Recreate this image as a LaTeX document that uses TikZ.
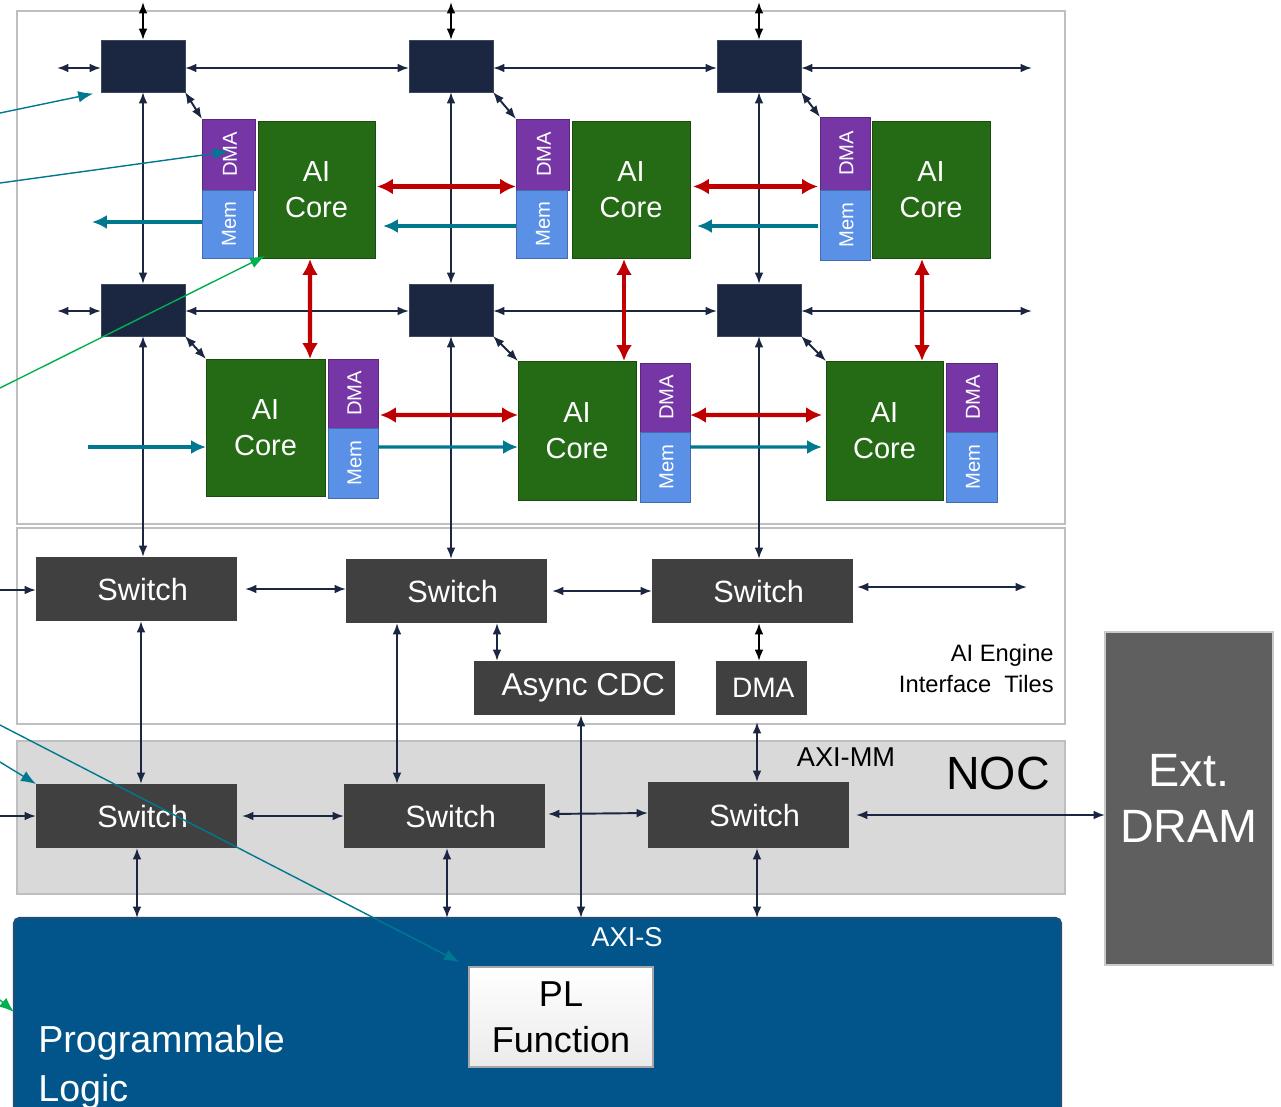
\documentclass[tikz,border=0pt]{standalone}
\usepackage{fontspec}
\setmainfont{Liberation Sans}
\usetikzlibrary{arrows.meta,calc}
\definecolor{cNavy}{HTML}{1B2641}
\definecolor{cDark}{HTML}{404040}
\definecolor{cCore}{HTML}{256B16}
\definecolor{cPurp}{HTML}{7636A6}
\definecolor{cMem}{HTML}{5A90E6}
\definecolor{cRed}{HTML}{C00000}
\definecolor{cTeal}{HTML}{00788F}
\definecolor{cGreen}{HTML}{00B050}
\definecolor{cFrame}{HTML}{BFBFBF}
\definecolor{cNoc}{HTML}{D9D9D9}
\definecolor{cPL}{HTML}{02558B}
\definecolor{cPLb}{HTML}{1F4E79}
\definecolor{cDram}{HTML}{5F5F5F}
\newcommand\fsz[2]{\fontsize{#1}{#2}\selectfont}
\newcommand\swt{\kern7pt Switch}
\tikzset{
  bx/.style n args={4}{minimum width={(#3-#1)*0.02cm}, minimum height={(#4-#2)*0.02cm}, at={({(#1+#3)/2},{(#2+#4)/2})}},
  blk/.style={inner sep=0pt, outer sep=0pt, anchor=center},
  frame/.style={blk, draw=cFrame, line width=1.1pt},
  xsw/.style={blk, fill=cNavy, draw=cNavy!85!white, line width=0.4pt},
  isw/.style={blk, fill=cDark, text=white, font=\fsz{17.5}{21}},
  core/.style={blk, fill=cCore, draw=cCore!70!black, line width=0.5pt, text=white, align=center, font=\fsz{16.5}{20.5}},
  dmab/.style={blk, fill=cPurp, draw=cPurp!75!black, line width=0.5pt},
  memb/.style={blk, fill=cMem, draw=cMem!75!black, line width=0.5pt},
  rot/.style={rotate=90, text=white, font=\fsz{11.5}{13}, inner sep=0pt},
  nv/.style={draw=cNavy, line width=1.1pt, {Latex[length=6.5pt,width=5pt]}-{Latex[length=6.5pt,width=5pt]}},
  nvs/.style={draw=cNavy, line width=1.1pt, -{Latex[length=6.5pt,width=5pt]}},
  bk/.style={draw=black, line width=1.1pt, {Latex[length=6.5pt,width=5pt]}-{Latex[length=6.5pt,width=5pt]}},
  rd/.style={draw=cRed, line width=2.3pt, {Latex[length=9pt,width=9pt]}-{Latex[length=9pt,width=9pt]}},
  tl/.style={draw=cTeal, line width=1.8pt, -{Latex[length=8.5pt,width=8pt]}},
  tn/.style={draw=cTeal, line width=0.8pt, -{Latex[length=8.5pt,width=6.5pt]}},
  gn/.style={draw=cGreen, line width=0.8pt, -{Latex[length=8.5pt,width=6.5pt]}},
}
\begin{document}
\begin{tikzpicture}[x=0.02cm,y=-0.02cm]
\useasboundingbox (0,0) rectangle (1281,1106);
\clip (0,0) rectangle (1281,1106);
% frames
\node[frame, bx={17}{11}{1065}{524}] (arr) {};
\node[frame, bx={17}{528}{1065}{724}] (itf) {};
\node[frame, fill=cNoc, bx={17}{741}{1065}{894}] (noc) {};
\node[blk, fill=cPL, draw=cPLb, line width=1.2pt, rounded corners=3pt, bx={14}{918}{1061}{1112}] (pl) {};
\node[blk, fill=cDram, draw=cFrame!85!white, line width=1.2pt, text=white, align=center, font=\fsz{26.6}{32}, bx={1105}{632}{1273}{965}] (dram) {Ext.\\DRAM};

% array switches
\node[xsw, bx={101}{40}{185}{92}] (sw11) {};
\node[xsw, bx={409}{40}{493}{92}] (sw12) {};
\node[xsw, bx={717}{40}{801}{92}] (sw13) {};
\node[xsw, bx={101}{284}{185}{336}] (sw21) {};
\node[xsw, bx={409}{284}{493}{336}] (sw22) {};
\node[xsw, bx={717}{284}{801}{336}] (sw23) {};

% top tiles
\node[dmab, bx={202}{119}{255}{190}] (dma1) {};
\node[memb, bx={202}{190}{253}{258}] (mem1) {};
\node[core, bx={258}{121}{375}{258}] (core1) {AI\\Core};
\node[dmab, bx={516}{119}{569}{190}] (dma2) {};
\node[memb, bx={516}{190}{567}{258}] (mem2) {};
\node[core, bx={572}{121}{690}{258}] (core2) {AI\\Core};
\node[dmab, bx={820}{117}{870}{190}] (dma3) {};
\node[memb, bx={820}{190}{870}{260}] (mem3) {};
\node[core, bx={872}{121}{990}{258}] (core3) {AI\\Core};
% bottom tiles
\node[core, bx={206}{359}{325}{496}] (core4) {AI\\Core};
\node[dmab, bx={328}{359}{378}{428}] (dma4) {};
\node[memb, bx={328}{428}{378}{498}] (mem4) {};
\node[core, bx={518}{361}{636}{500}] (core5) {AI\\Core};
\node[dmab, bx={640}{363}{690}{432}] (dma5) {};
\node[memb, bx={640}{432}{690}{502}] (mem5) {};
\node[core, bx={826}{361}{943}{500}] (core6) {AI\\Core};
\node[dmab, bx={946}{363}{997}{432}] (dma6) {};
\node[memb, bx={946}{432}{997}{502}] (mem6) {};
\foreach \n in {1,...,6}{
  \node[rot] (dma\n t) at ($(dma\n)+(1.5,0)$) {DMA};
  \node[rot] (mem\n t) at ($(mem\n)+(1.5,0)$) {Mem};
}

% interface tiles
\node[isw, bx={36}{557}{237}{621}] (is1) {\swt};
\node[isw, bx={346}{559}{547}{623}] (is2) {\swt};
\node[isw, bx={652}{559}{853}{623}] (is3) {\swt};
\node[isw, font=\fsz{18}{21}, bx={474}{661}{675}{715}] (cdc) {\kern 10pt Async CDC};
\node[isw, font=\fsz{16}{20}, bx={716}{661}{807}{715}] (idma) {\raisebox{-2pt}{\kern2pt DMA}};
\node[anchor=east, align=right, font=\fsz{13.5}{18}, inner sep=0pt] (ait) at (1054,668.5) {AI Engine\\Interface\ \ Tiles};

% NOC
\node[isw, bx={36}{784}{237}{848}] (n1) {\swt};
\node[isw, bx={344}{784}{545}{848}] (n2) {\swt};
\node[isw, bx={648}{782}{849}{848}] (n3) {\swt};
\node[font=\fsz{15.5}{18}, inner sep=0pt] (axmm) at (846,757.5) {AXI-MM};
\node[font=\fsz{26.5}{30}, inner sep=0pt] (nocl) at (998,773) {NOC};

% PL
\node[blk, top color=white, bottom color=black!8, draw=black!35, line width=1pt, align=center, font=\fsz{20.5}{26}, bx={469}{967}{653}{1067}] (plf) {PL\\Function};
\node[text=white, font=\fsz{15.5}{18}, inner sep=0pt] (axs) at (627,937.5) {AXI-S};
\node[text=white, align=left, anchor=north west, font=\fsz{21.4}{28}, inner sep=0pt] (plt) at (38,1025) {Programmable\\Logic};

% ---- array connectors
\foreach \c in {1,2,3}{
  \coordinate (top\c) at ($(sw1\c.north)+(0,-38)$);
  \draw[bk] (top\c) -- (sw1\c.north);
  \draw[nv] (sw1\c.south) -- (sw2\c.north);
}
\draw[nv] (sw11.south east) -- (dma1.north west);
\draw[nv] (sw12.south east) -- (dma2.north west);
\draw[nv] (sw13.south east) -- (dma3.north west);
\draw[nv] (sw21.south) -- (sw21.south |- is1.north);
\draw[nv] (sw22.south) -- (sw22.south |- is2.north);
\draw[nv] (sw23.south) -- (sw23.south |- is3.north);
\draw[nv] (sw21.south east) -- (core4.north west);
\draw[nv] (sw22.south east) -- (core5.north west);
\draw[nv] (sw23.south east) -- (core6.north west);
\foreach \r/\y in {1/68,2/311}{
  \coordinate (lf\r) at (57,\y);
  \coordinate (rt\r) at (1032,\y);
  \draw[nv] (lf\r) -- (lf\r -| sw\r1.west);
  \draw[nv] (sw\r1.east |- lf\r) -- (sw\r2.west |- lf\r);
  \draw[nv] (sw\r2.east |- lf\r) -- (sw\r3.west |- lf\r);
  \draw[nv] (sw\r3.east |- lf\r) -- (rt\r);
}
% red
\draw[rd] ($(core1.east)+(2,-3)$) -- ($(core1.east -| dma2.west)+(0,-3)$);
\draw[rd] ($(core2.east)+(3,-3)$) -- ($(core2.east -| dma3.west)+(-2,-3)$);
\draw[rd] ($(core1.south)+(-6.5,1)$) -- ($(core4.north)+(44.5,0)$);
\draw[rd] ($(core2.south)+(-7,1)$) -- ($(core5.north)+(47,0)$);
\draw[rd] ($(core3.south)+(-9,1)$) -- ($(core6.north)+(37.5,0)$);
\draw[rd] ($(dma4.east)+(2,21.5)$) -- ($(core5.west)+(0,-15.5)$);
\draw[rd] ($(dma5.east)+(0,17.5)$) -- ($(core6.west)+(-4,-15.5)$);
% teal
\coordinate (tl1) at (92,222);
\draw[tl] (mem1.west |- tl1) -- (tl1);
\draw[tl] ($(mem2.west)+(0,2)$) -- ($(mem2.west -| core1.east)+(8,2)$);
\draw[tl] ($(mem3.west)+(-2,1)$) -- ($(mem3.west -| core2.east)+(7,1)$);
\coordinate (tl4) at (88,447);
\draw[tl] (tl4) -- (tl4 -| core4.west);
\draw[tl] ($(mem4.east)+(0,-16)$) -- ($(core5.west)+(0,16.5)$);
\draw[tl] ($(mem5.east)+(0,-20)$) -- ($(core6.west)+(-4,16.5)$);

% ---- interface connectors
\coordinate (li) at (0,590);
\draw[nvs] (li) -- (li -| is1.west);
\draw[nv] ($(is1.east)+(8,0)$) -- (is2.west |- is1.east);
\draw[nv] ($(is2.east)+(5,0)$) -- (is3.west |- is2.east);
\coordinate (ri) at (1027,587);
\draw[nv] ($(is3.east |- ri)+(4,0)$) -- (ri);
\draw[nv] ($(is1.south)+(4.5,0)$) -- ($(n1.north)+(4.5,0)$);
\draw[nv] ($(is2.south)+(-49.5,0)$) -- ($(n2.north)+(-47.5,0)$);
\draw[nv] ($(is2.south)+(50.5,0)$) -- ($(cdc.north)+(-77.5,0)$);
\draw[bk] ($(is3.south)+(6.5,0)$) -- ($(idma.north)+(-2.5,0)$);
\draw[nv] ($(cdc.south)+(6.5,0)$) -- ($(pl.north)+(43.5,0)$);
\draw[nv] ($(idma.south)+(-4.5,7)$) -- ($(n3.north)+(8.5,0)$);

% ---- NOC connectors
\coordinate (ln) at (0,816);
\draw[nvs] (ln) -- (ln -| n1.west);
\draw[nv] ($(n1.east)+(5,0)$) -- (n2.west);
\draw[nv] ($(n2.east)+(3,-2)$) -- ($(n3.west)+(0,-2)$);
\draw[nv] ($(n3.east)+(7,0)$) -- (n3.east -| dram.west);
\coordinate (d1) at ($(n1.south)+(0.5,0)$);
\coordinate (d2) at ($(n2.south)+(2.5,0)$);
\coordinate (d3) at ($(n3.south)+(8.5,0)$);
\draw[nv] (d1) -- (d1 |- pl.north);
\draw[nv] (d2) -- (d2 |- pl.north);
\draw[nv] (d3) -- (d3 |- pl.north);

% ---- annotation lines from the left
\coordinate (a1) at (0,113);
\coordinate (a2) at (0,183);
\coordinate (a3) at (0,388);
\coordinate (a4) at (0,762);
\coordinate (a5) at (0,725);
\coordinate (a6) at (0,1000);
\draw[tn, shorten >=0.16cm] (a1) -- (sw11.south west);
\draw[tn] (a2) -- ($(dma1.center)+(0,-3)$);
\draw[gn] (a3) -- ($(core1.south west)+(7,-2)$);
\draw[tn] (a4) -- (n1.north west);
\draw[tn, shorten >=0.22cm] (a5) -- (plf.north west);
\draw[gn] (a6) -- ($(pl.north west)+(0,94)$);
\end{tikzpicture}
\end{document}
